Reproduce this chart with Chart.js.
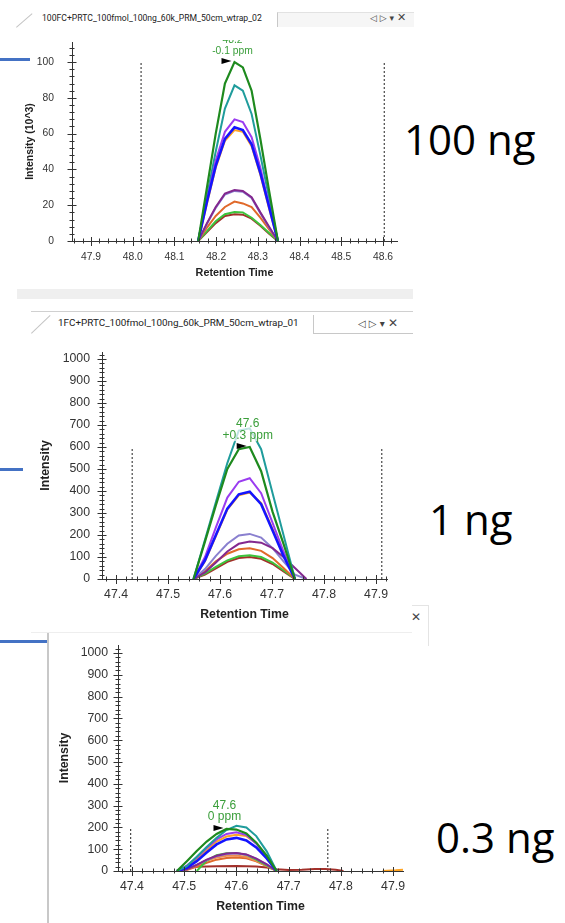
<!DOCTYPE html>
<html><head><meta charset="utf-8">
<title>PRM extracted ion chromatograms</title>
<script src="https://cdn.jsdelivr.net/npm/chart.js@4.4.1/dist/chart.umd.min.js"></script>
<style>
html,body{margin:0;padding:0;background:#fff}
body{position:relative;width:565px;height:923px;overflow:hidden;font-family:"Liberation Sans",Arial,sans-serif;color:#222}
.a{position:absolute}
.tab{white-space:nowrap;line-height:12px;height:12px;color:#222;font-family:"Liberation Sans Narrow","Roboto",sans-serif}
.icons{white-space:nowrap;font-family:"DejaVu Sans",sans-serif;color:#444;line-height:12px;height:12px}
.big{font-family:"Open Sans",sans-serif;font-size:42px;line-height:42px;color:#000;white-space:nowrap}
</style></head>
<body>
<!-- panel 1 header -->
<div class="a" style="left:16px;top:27px;width:21px;height:1px;background:#c4c4c4;transform-origin:0 0;transform:rotate(-41deg)"></div>
<div id="tab1" class="a tab" style="left:42px;top:12px;font-size:10px">100FC+PRTC_100fmol_100ng_60k_PRM_50cm_wtrap_02</div>
<div class="a" style="left:277px;top:12px;width:136px;height:14px;background:#f6f6f6;border-left:1px solid #c8c8c8;border-top:1px solid #e2e2e2"></div>
<div class="a icons" style="left:370px;top:12px;font-size:9px">◁&nbsp;▷&nbsp;▾&nbsp;<span style="font-size:11px">✕</span></div>
<div class="a" style="left:0;top:58px;width:30px;height:3px;background:#4472c4"></div>
<div class="a" style="left:17px;top:289px;width:396px;height:10px;background:#efefef"></div>
<!-- panel 2 header -->
<div class="a" style="left:31px;top:311px;width:382px;height:1px;background:#d0d0d0"></div>
<div class="a" style="left:31px;top:333px;width:26px;height:1px;background:#c4c4c4;transform-origin:0 0;transform:rotate(-43.5deg)"></div>
<div id="tab2" class="a tab" style="left:58px;top:317px;font-size:11.5px">1FC+PRTC_100fmol_100ng_60k_PRM_50cm_wtrap_01</div>
<div class="a" style="left:313px;top:315px;width:1px;height:18px;background:#c8c8c8"></div>
<div class="a" style="left:313px;top:333px;width:100px;height:1px;background:#c8c8c8"></div>
<div class="a icons" style="left:358px;top:317px;font-size:10px">◁&nbsp;▷&nbsp;▾&nbsp;<span style="font-size:12px">✕</span></div>
<div class="a" style="left:0;top:468px;width:23px;height:3px;background:#4472c4"></div>
<!-- panel 3 header -->
<div class="a" style="left:412px;top:605px;width:16px;height:40px;border-top:1px solid #e4e4e4;border-right:1px solid #e4e4e4"></div>
<div class="a icons" style="left:411px;top:611px;font-size:12px">✕</div>
<div class="a" style="left:31px;top:632px;width:381px;height:1px;background:#eeeeee"></div>
<div class="a" style="left:0;top:640px;width:47px;height:3px;background:#4472c4"></div>
<div class="a" style="left:47px;top:633px;width:2px;height:290px;background:#c8c8c8"></div>
<!-- amount labels -->
<div class="a big" style="left:404px;top:118px">100 ng</div>
<div class="a big" style="left:429px;top:498px">1 ng</div>
<div class="a big" style="left:436px;top:816px">0.3 ng</div>

<canvas id="c1" class="a" width="415" height="245" style="left:0;top:40px"></canvas>
<canvas id="c2" class="a" width="415" height="290" style="left:0;top:336px"></canvas>
<canvas id="c3" class="a" width="365" height="283" style="left:50px;top:640px"></canvas>

<script>
// ---------- Panel 1 : 100 ng (intensity in 10^3) ----------
const p1Times  = [48.157, 48.178, 48.199, 48.221, 48.244, 48.264, 48.285, 48.306, 48.327, 48.348];
const p1Green  = [0, 30, 60, 88, 100, 97, 84, 57, 28, 0];
const p1Teal   = [0, 25, 50, 74, 87, 84, 71, 48, 24, 0];
const p1Violet = [0, 23, 45, 61, 68, 66.5, 58, 41, 20, 0];
const p1Blue   = [0, 22, 42, 57, 63.5, 62, 54, 38, 19, 0];
const p1Gold   = [0, 21, 41, 56, 62, 61, 53, 37, 18, 0];
const p1Plum   = [0, 10, 19, 26.5, 28.5, 28, 24.5, 16, 8, 0];
const p1Slate  = [0, 9.5, 18.5, 26, 28, 27.5, 24, 15.5, 7.5, 0];
const p1Rust   = [0, 7.5, 14, 19, 22, 21, 19, 13, 6.5, 0];
const p1Lime   = [0, 5.5, 11, 15, 16.2, 16, 13, 9, 4.5, 0];
const p1Brown  = [0, 5, 10, 14, 15, 14.7, 12.5, 8.5, 4, 0];
const p1Bounds = [48.02, 48.603];
const p1BoundTop = 100;
const p1XTicks = [47.9, 48.0, 48.1, 48.2, 48.3, 48.4, 48.5, 48.6];
const p1YTicks = [0, 20, 40, 60, 80, 100];
const p1Peak = ['48.2', '-0.1 ppm'];

// ---------- Panel 2 : 1 ng ----------
const p2Times  = [47.549, 47.571, 47.592, 47.614, 47.636, 47.657, 47.679, 47.701, 47.722, 47.744, 47.766];
const p2Green  = [0, 170, 335, 500, 590, 600, 490, 305, 160, 0];
const p2Teal   = [0, 178, 350, 527, 675, 685, 590, 390, 200, 0];
const p2Violet = [0, 100, 235, 370, 442, 458, 390, 255, 125, 0];
const p2Blue   = [0, 85, 200, 320, 385, 397, 340, 220, 105, 0];
const p2Gold   = [0, 80, 195, 315, 380, 393, 345, 228, 112, 0];
const p2Plum   = [0, 30, 75, 125, 160, 170, 165, 140, 100, 50, 0];
const p2Slate  = [0, 45, 105, 160, 198, 205, 188, 140, 80, 20, 0];
const p2Rust   = [0, 35, 80, 115, 135, 140, 128, 95, 50, 0];
const p2Lime   = [0, 25, 55, 85, 103, 108, 100, 75, 40, 0];
const p2Brown  = [0, 20, 48, 78, 95, 100, 92, 68, 35, 0];
const p2Bounds = [47.431, 47.911];
const p2BoundTop = 600;
const p2XTicks = [47.4, 47.5, 47.6, 47.7, 47.8, 47.9];
const p2YTicks = [0, 100, 200, 300, 400, 500, 600, 700, 800, 900, 1000];
const p2Peak = ['47.6', '+0.3 ppm'];

// ---------- Panel 3 : 0.3 ng ----------
const p3Times  = [47.486, 47.505, 47.524, 47.543, 47.562, 47.581, 47.600, 47.619, 47.638, 47.658, 47.677];
const p3Green  = [0, 45, 92, 135, 170, 193, 190, 172, 130, 70, 0];
const p3Teal   = [0, 22, 65, 110, 152, 188, 207, 200, 160, 90, 0];
const p3Violet = [0, 25, 62, 105, 145, 170, 178, 165, 125, 65, 0];
const p3Gold   = [0, 20, 55, 95, 135, 158, 166, 160, 128, 68, 0];
const p3Blue   = [0, 15, 45, 85, 122, 145, 152, 140, 108, 58, 0];
const p3Plum   = [0, 8, 28, 52, 70, 80, 83, 76, 57, 30, 0];
const p3Slate  = [0, 8, 28, 50, 68, 78, 81, 75, 57, 30, 0];
const p3Lime   = [null, null, 0, 48, 72, 82, 83, 74, 52, 26, 0];
const p3Rust   = [0, 5, 20, 38, 52, 60, 62, 58, 44, 22, 0];
const p3Salmon = [0, 8, 28, 48, 62, 70, 71, 64, 47, 24, 0];
const p3BrownTimes = [47.486, 47.505, 47.524, 47.562, 47.600, 47.638, 47.658, 47.677, 47.700, 47.725, 47.750, 47.770, 47.790, 47.805];
const p3Brown      = [0, 14, 20, 22, 23, 21, 16, 8, 5, 6, 9, 9, 6, 0];
const p3TailTimes  = [47.880, 47.905, 47.919];
const p3Tail       = [0, 3, 6];
const p3Bounds = [47.3975, 47.775];
const p3BoundTop = 193;
const p3XTicks = [47.4, 47.5, 47.6, 47.7, 47.8, 47.9];
const p3YTicks = [0, 100, 200, 300, 400, 500, 600, 700, 800, 900, 1000];
const p3Peak = ['47.6', '0 ppm'];

// ---------- styling ----------
const COL = {green:'#1e8a1e', teal:'#1f9c9c', violet:'#9a3cf0', blue:'#1414ff', gold:'#ffa424',
  plum:'#83288f', slate:'#8a80cf', rust:'#e0692a', salmon:'#ee8c50', lime:'#3cc43c', brown:'#a2302a'};
const FONT = '"Liberation Sans", Arial, sans-serif';

function fitText(id, width) {
  const el = document.getElementById(id);
  const cs = getComputedStyle(el);
  const c = document.createElement('canvas').getContext('2d');
  c.font = cs.fontSize + ' ' + cs.fontFamily;
  const w = c.measureText(el.textContent).width;
  el.style.fontSize = (parseFloat(cs.fontSize) * width / w) + 'px';
}
fitText('tab1', 220);
fitText('tab2', 241);

function pts(times, vals) {
  const out = [];
  vals.forEach((v, i) => { if (v !== null) out.push({x: times[i], y: v}); });
  return out;
}
function line(times, vals, color, w) {
  return {data: pts(times, vals), borderColor: color, borderWidth: w || 2, pointRadius: 0, tension: 0, fill: false};
}
function bound(t, top) {
  return {data: [{x: t, y: 0}, {x: t, y: top}], borderColor: '#222', borderWidth: 1, borderDash: [2, 2], pointRadius: 0};
}

const axisMarks = {
  id: 'axisMarks',
  afterDraw(chart, args, o) {
    const ctx = chart.ctx, a = chart.chartArea, xs = chart.scales.x, ys = chart.scales.y;
    ctx.save();
    ctx.strokeStyle = '#333';
    ctx.lineWidth = 1;
    const e = 1e-7;
    for (let k = Math.ceil(xs.min / o.xMinor - e); k * o.xMinor <= xs.max + e; k++) {
      const v = k * o.xMinor;
      const major = Math.abs(v / o.xMajor - Math.round(v / o.xMajor)) < 1e-4;
      const px = Math.round(xs.getPixelForValue(v)) + 0.5;
      ctx.beginPath();
      ctx.moveTo(px, a.bottom - (major ? 4 : 2.5));
      ctx.lineTo(px, a.bottom + (major ? 5 : 2.5));
      ctx.stroke();
    }
    for (let k = Math.ceil(ys.min / o.yMinor - e); k * o.yMinor <= ys.max + e; k++) {
      const v = k * o.yMinor;
      const major = Math.abs(v / o.yMajor - Math.round(v / o.yMajor)) < 1e-4;
      const py = Math.round(ys.getPixelForValue(v)) + 0.5;
      ctx.beginPath();
      ctx.moveTo(a.left - (major ? 4.5 : 2.5), py);
      ctx.lineTo(a.left + (major ? 4.5 : 2.5), py);
      ctx.stroke();
    }
    ctx.restore();
  }
};

const peakLabel = {
  id: 'peakLabel',
  afterDatasetsDraw(chart, args, o) {
    const d = chart.data.datasets[o.dataset].data;
    let top = d[0];
    d.forEach(p => { if (p.y > top.y) top = p; });
    const px = chart.scales.x.getPixelForValue(top.x), py = chart.scales.y.getPixelForValue(top.y);
    const ctx = chart.ctx;
    ctx.save();
    ctx.font = o.size + 'px ' + FONT;
    ctx.textAlign = 'center';
    ctx.textBaseline = 'middle';
    const n = o.lines.length;
    o.lines.forEach((t, i) => {
      const ly = py - o.gap * (n - i);
      const w = ctx.measureText(t).width + 2;
      ctx.fillStyle = 'rgba(255,255,255,0.72)';
      ctx.fillRect(px - 2 - w / 2, ly - o.size / 2, w, o.size);
      ctx.fillStyle = '#3a9e3a';
      ctx.fillText(t, px - 2, ly);
    });
    ctx.fillStyle = '#000';
    ctx.beginPath();
    ctx.moveTo(px - 3, py - 1);
    ctx.lineTo(px - 13, py - 4);
    ctx.lineTo(px - 13, py + 2);
    ctx.closePath();
    ctx.fill();
    ctx.restore();
  }
};

function makePanel(id, c, area, xH, xr, yr, xTicks, yTicks, datasets, st) {
  const pad = {left: 0, top: area.T - c.y, right: c.x + c.w - area.R, bottom: c.y + c.h - area.B - xH};
  const yW = area.L - c.x;
  return new Chart(document.getElementById(id), {
    type: 'line',
    data: {datasets},
    plugins: [axisMarks, peakLabel],
    options: {
      responsive: false, animation: false, events: [],
      layout: {padding: pad},
      plugins: {
        legend: {display: false}, tooltip: {enabled: false},
        axisMarks: {xMinor: 0.02, xMajor: 0.1, yMinor: st.yMinor, yMajor: st.yMajor},
        peakLabel: {dataset: 0, lines: st.peak, size: st.labelSize, gap: st.gap}
      },
      scales: {
        x: {
          type: 'linear', min: xr[0], max: xr[1],
          afterBuildTicks: s => { s.ticks = xTicks.map(v => ({value: v})); },
          afterFit: s => { s.height = xH; s.paddingLeft = 0; s.paddingRight = 0; },
          grid: {drawOnChartArea: false, drawTicks: false},
          border: {color: '#333', width: 1},
          ticks: {padding: st.xPad, color: '#333', autoSkip: false, maxRotation: 0,
                  font: {family: FONT, size: st.tick}, callback: v => Number(v).toFixed(1)},
          title: {display: true, text: 'Retention Time', color: '#222', padding: {top: 0, bottom: 0},
                  font: {family: FONT, size: st.title, weight: 'bold'}}
        },
        y: {
          type: 'linear', min: yr[0], max: yr[1],
          afterBuildTicks: s => { s.ticks = yTicks.map(v => ({value: v})); },
          afterFit: s => { s.width = yW; s.paddingTop = 0; s.paddingBottom = 0; },
          grid: {drawOnChartArea: false, drawTicks: false},
          border: {color: '#333', width: 1},
          ticks: {padding: st.yPad, color: '#333', autoSkip: false,
                  font: {family: FONT, size: st.tick}, callback: v => String(v)},
          title: {display: true, text: st.yTitle, color: '#222', padding: {top: st.yTitlePad, bottom: 0},
                  font: {family: FONT, size: st.yTitleSize, weight: 'bold'}}
        }
      }
    }
  });
}

makePanel('c1', {x: 0, y: 40, w: 415, h: 245}, {L: 72, T: 42, R: 397, B: 241}, 39,
  [47.8544, 48.6336], [0, 111.2], p1XTicks, p1YTicks, [
    line(p1Times, p1Green, COL.green, 2.2),
    line(p1Times, p1Blue, COL.blue, 2.6),
    line(p1Times, p1Violet, COL.violet, 2),
    line(p1Times, p1Teal, COL.teal, 2),
    line(p1Times, p1Gold, COL.gold, 2),
    line(p1Times, p1Plum, COL.plum, 2),
    line(p1Times, p1Slate, COL.slate, 2),
    line(p1Times, p1Rust, COL.rust, 2),
    line(p1Times, p1Lime, COL.lime, 2),
    line(p1Times, p1Brown, COL.brown, 2),
    bound(p1Bounds[0], p1BoundTop), bound(p1Bounds[1], p1BoundTop)
  ], {tick: 10.3, title: 10.8, xPad: 9.8, yPad: 18, yTitle: 'Intensity (10^3)', yTitleSize: 10.5, yTitlePad: 23.7,
      yMinor: 4, yMajor: 20, peak: p1Peak, labelSize: 10.3, gap: 10.7});

makePanel('c2', {x: 0, y: 336, w: 415, h: 290}, {L: 102, T: 352, R: 387, B: 579}, 43,
  [47.373, 47.921], [0, 1031.8], p2XTicks, p2YTicks, [
    line(p2Times, p2Green, COL.green, 2.2),
    line(p2Times, p2Blue, COL.blue, 2.6),
    line(p2Times, p2Violet, COL.violet, 2),
    line(p2Times, p2Teal, COL.teal, 2),
    line(p2Times, p2Gold, COL.gold, 2),
    line(p2Times, p2Plum, COL.plum, 2),
    line(p2Times, p2Slate, COL.slate, 2),
    line(p2Times, p2Rust, COL.rust, 2),
    line(p2Times, p2Lime, COL.lime, 2),
    line(p2Times, p2Brown, COL.brown, 2),
    bound(p2Bounds[0], p2BoundTop), bound(p2Bounds[1], p2BoundTop)
  ], {tick: 12.3, title: 12.3, xPad: 8.6, yPad: 12, yTitle: 'Intensity', yTitleSize: 12.3, yTitlePad: 38.6,
      yMinor: 20, yMajor: 100, peak: p2Peak, labelSize: 12, gap: 11.8});

makePanel('c3', {x: 50, y: 640, w: 365, h: 283}, {L: 118, T: 645, R: 403, B: 871}, 43,
  [47.3732, 47.919], [0, 1036.7], p3XTicks, p3YTicks, [
    line(p3Times, p3Green, COL.green, 2.2),
    line(p3Times, p3Teal, COL.teal, 2),
    line(p3Times, p3Blue, COL.blue, 2.6),
    line(p3Times, p3Violet, COL.violet, 2),
    line(p3Times, p3Gold, COL.gold, 2),
    line(p3Times, p3Plum, COL.plum, 2),
    line(p3Times, p3Slate, COL.slate, 2),
    line(p3Times, p3Lime, COL.lime, 2),
    line(p3Times, p3Salmon, COL.salmon, 2),
    line(p3Times, p3Rust, COL.rust, 2),
    line(p3BrownTimes, p3Brown, COL.brown, 2),
    line(p3TailTimes, p3Tail, COL.gold, 2),
    bound(p3Bounds[0], p3BoundTop), bound(p3Bounds[1], p3BoundTop)
  ], {tick: 12.3, title: 12.3, xPad: 8.3, yPad: 10, yTitle: 'Intensity', yTitleSize: 12.3, yTitlePad: 7.6,
      yMinor: 20, yMajor: 100, peak: p3Peak, labelSize: 12, gap: 11.8});
</script>
</body></html>
